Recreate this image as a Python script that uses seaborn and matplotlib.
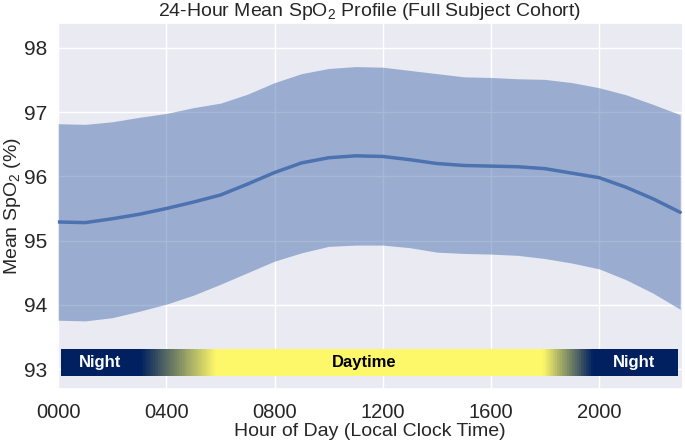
import numpy as np
import pandas as pd
import matplotlib
matplotlib.use("Agg")
import matplotlib.pyplot as plt
import seaborn as sns
from matplotlib.colors import LinearSegmentedColormap

hours = list(range(24))
mean_spo2 = [95.29, 95.28, 95.34, 95.41, 95.50, 95.60, 95.71, 95.88, 96.06, 96.21,
             96.29, 96.32, 96.31, 96.26, 96.20, 96.17, 96.16, 96.15, 96.12, 96.05,
             95.98, 95.83, 95.65, 95.44]
upper = [96.82, 96.81, 96.85, 96.92, 96.98, 97.07, 97.14, 97.28, 97.46, 97.60,
         97.68, 97.71, 97.70, 97.65, 97.60, 97.55, 97.54, 97.52, 97.51, 97.46,
         97.38, 97.27, 97.12, 96.96]
lower = [93.76, 93.75, 93.80, 93.90, 94.01, 94.15, 94.32, 94.50, 94.68, 94.81,
         94.91, 94.93, 94.93, 94.89, 94.82, 94.80, 94.79, 94.77, 94.72, 94.65,
         94.56, 94.39, 94.18, 93.93]
tick_hours = [0, 4, 8, 12, 16, 20]
tick_labels = ["0000", "0400", "0800", "1200", "1600", "2000"]
yticks = [93, 94, 95, 96, 97, 98]

df = pd.DataFrame({"hour": hours, "mean": mean_spo2, "upper": upper, "lower": lower})

sns.set_theme(style="darkgrid")
plt.rcParams["font.family"] = ["Liberation Sans", "DejaVu Sans"]
plt.rcParams["mathtext.fontset"] = "custom"
plt.rcParams["mathtext.rm"] = "Liberation Sans"
plt.rcParams["mathtext.it"] = "Liberation Sans:italic"

fig = plt.figure(figsize=(6.85, 4.4), dpi=100)
ax = fig.add_axes([0.083, 0.116, 0.914, 0.832])

blue = "#4c72b0"
ax.fill_between(df["hour"], df["lower"], df["upper"], color=blue, alpha=0.5, linewidth=0)
sns.lineplot(data=df, x="hour", y="mean", ax=ax, color=blue, linewidth=2.5)

# day/night bar
navy = "#002060"
yellow = "#fdf86a"
x0, x1 = 0.1, 22.9
def frac(h):
    return (h - x0) / (x1 - x0)
cmap = LinearSegmentedColormap.from_list(
    "daynight",
    [(0.0, navy), (frac(3.0), navy), (frac(5.8), yellow), (frac(17.95), yellow),
     (frac(19.8), navy), (1.0, navy)])
grad = np.linspace(0, 1, 1000).reshape(1, -1)
ax.imshow(grad, cmap=cmap, aspect="auto", extent=[x0, x1, 92.89, 93.30], zorder=3)
ax.text(1.55, 93.095, "Night", color="white", fontweight="bold", fontsize=12,
        ha="center", va="center", zorder=4)
ax.text(11.3, 93.095, "Daytime", color="black", fontweight="bold", fontsize=12,
        ha="center", va="center", zorder=4)
ax.text(21.3, 93.095, "Night", color="white", fontweight="bold", fontsize=12,
        ha="center", va="center", zorder=4)

ax.set_xlim(-0.05, 23.1)
ax.set_ylim(92.69, 98.39)
ax.set_xticks(tick_hours)
ax.set_xticklabels(tick_labels)
ax.set_yticks(yticks)
ax.tick_params(axis="x", labelsize=14.5, pad=4)
ax.tick_params(axis="y", labelsize=15, pad=1)
ax.set_xlabel("Hour of Day (Local Clock Time)", fontsize=14, labelpad=1)
ax.set_ylabel("Mean SpO$_2$ (%)", fontsize=14)
ax.yaxis.set_label_coords(-0.054, 0.5)
ax.set_title("24-Hour Mean SpO$_2$ Profile (Full Subject Cohort)", fontsize=14, pad=5)

fig.savefig("out.png", dpi=100)
